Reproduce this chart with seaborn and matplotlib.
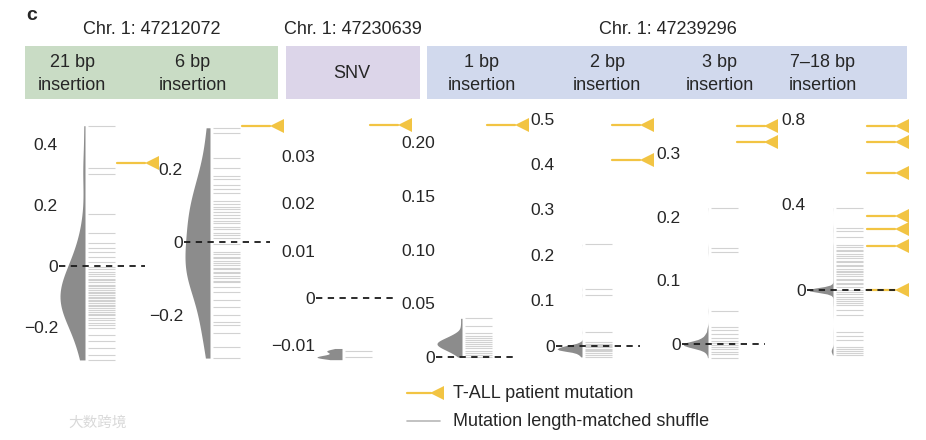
import numpy as np
import matplotlib
matplotlib.use("Agg")
import matplotlib.pyplot as plt
from matplotlib.patches import Rectangle
from matplotlib.transforms import blended_transform_factory
import seaborn as sns

# ---- header text
chr_labels = ["Chr. 1: 47212072", "Chr. 1: 47230639", "Chr. 1: 47239296"]
panel_names = ["21 bp\ninsertion", "6 bp\ninsertion", "SNV", "1 bp\ninsertion",
               "2 bp\ninsertion", "3 bp\ninsertion", "7\u201318 bp\ninsertion"]

# ---- shuffle values (one rug line each) and how many shuffles sit on each value
shuffle_21 = [0.460, 0.321, 0.302, 0.170, 0.108, 0.075, 0.059, 0.046, 0.030, 0.013,
              -0.004, -0.011, -0.019, -0.026, -0.033, -0.041, -0.046, -0.054, -0.061, -0.065,
              -0.073, -0.079, -0.084, -0.089, -0.096, -0.101, -0.104, -0.111, -0.116, -0.121,
              -0.127, -0.131, -0.139, -0.143, -0.151, -0.157, -0.162, -0.171, -0.177, -0.187,
              -0.194, -0.204, -0.226, -0.246, -0.269, -0.292, -0.308]
shuffle_6 = [0.313, 0.300, 0.229, 0.202, 0.182, 0.173, 0.156, 0.145, 0.133, 0.112,
             0.104, 0.097, 0.091, 0.081, 0.074, 0.066, 0.057, 0.051, 0.041, 0.035,
             0.025, 0.019, 0.011, -0.005, -0.027, -0.032, -0.040, -0.044, -0.052, -0.058,
             -0.062, -0.070, -0.074, -0.082, -0.086, -0.094, -0.098, -0.106, -0.110, -0.122,
             -0.136, -0.159, -0.177, -0.200, -0.218, -0.227, -0.250, -0.287, -0.318]
shuffle_snv = [-0.0112, -0.0125]
count_snv = [3, 5]
shuffle_1 = [0.036, 0.029, 0.022, 0.020, 0.018, 0.016, 0.014, 0.012, 0.010, 0.008,
             0.006, 0.004, 0.002, 0.000]
count_1 = [1, 1, 2, 2, 3, 4, 6, 6, 5, 4, 3, 2, 1, 1]
shuffle_2 = [0.2235, 0.1246, 0.112, 0.030, 0.008, 0.005, 0.002, 0.000, -0.003, -0.006,
             -0.009, -0.012, -0.016, -0.020, -0.024]
count_2 = [1, 1, 1, 1, 12, 24, 40, 66, 90, 108, 100, 66, 30, 15, 6]
shuffle_3 = [0.214, 0.151, 0.144, 0.052, 0.027, 0.022, 0.015, 0.009, 0.004, 0.001,
             -0.002, -0.005, -0.008, -0.012, -0.016, -0.0215]
count_3 = [1, 1, 1, 1, 3, 8, 20, 40, 66, 90, 90, 66, 36, 15, 6, 3]
shuffle_7 = [0.385, 0.289, 0.276, 0.249, 0.211, 0.203, 0.188, 0.181, 0.167, 0.158,
             0.149, 0.137, 0.131, 0.118, 0.112, 0.099, 0.091, 0.083, 0.074, 0.066,
             0.052, 0.047, 0.035, 0.026, 0.014, 0.000, -0.011, -0.019, -0.032, -0.041,
             -0.053, -0.061, -0.070, -0.094, -0.117, -0.195, -0.214, -0.234, -0.265, -0.276,
             -0.285, -0.296, -0.304]
count_7 = [1, 1, 1, 1, 1, 1, 1, 1, 1, 1,
           1, 1, 1, 1, 1, 1, 1, 1, 1, 1,
           1, 1, 1, 1, 1, 300, 1, 1, 1, 1,
           1, 1, 1, 1, 1, 1, 1, 1, 1, 1,
           20, 1, 1]

# ---- T-ALL patient mutations
patient_21 = [0.338]
patient_6 = [0.318]
patient_snv = [0.0366]
patient_1 = [0.216]
patient_2 = [0.486, 0.409]
patient_3 = [0.342, 0.317]
patient_7 = [0.767, 0.692, 0.547, 0.346, 0.285, 0.206, 0.0]

# ---- y ticks
ticks_21 = [-0.2, 0, 0.2, 0.4]
ticks_6 = [-0.2, 0, 0.2]
ticks_snv = [-0.01, 0, 0.01, 0.02, 0.03]
ticks_1 = [0, 0.05, 0.10, 0.15, 0.20]
ticks_2 = [0, 0.1, 0.2, 0.3, 0.4, 0.5]
ticks_3 = [0, 0.1, 0.2, 0.3]
ticks_7 = [0, 0.4, 0.8]
ticklabels_21 = ["\u22120.2", "0", "0.2", "0.4"]
ticklabels_6 = ["\u22120.2", "0", "0.2"]
ticklabels_snv = ["\u22120.01", "0", "0.01", "0.02", "0.03"]
ticklabels_1 = ["0", "0.05", "0.10", "0.15", "0.20"]
ticklabels_2 = ["0", "0.1", "0.2", "0.3", "0.4", "0.5"]
ticklabels_3 = ["0", "0.1", "0.2", "0.3"]
ticklabels_7 = ["0", "0.4", "0.8"]

shuffles = [shuffle_21, shuffle_6, shuffle_snv, shuffle_1, shuffle_2, shuffle_3, shuffle_7]
counts = [None, None, count_snv, count_1, count_2, count_3, count_7]
patients = [patient_21, patient_6, patient_snv, patient_1, patient_2, patient_3, patient_7]
ticks = [ticks_21, ticks_6, ticks_snv, ticks_1, ticks_2, ticks_3, ticks_7]
ticklabels = [ticklabels_21, ticklabels_6, ticklabels_snv, ticklabels_1,
              ticklabels_2, ticklabels_3, ticklabels_7]

# ---- layout (pixels)
W, H = 926, 440
panel_x0 = [60, 185, 317, 437, 557, 683, 808]
arrow_tip = [0.85, 0.85, 0.81, 0.78, 0.83, 0.82, 0.87]
ylims = [(-0.3246, 0.4951), (-0.337, 0.348), (-0.01416, 0.03869), (-0.00745, 0.2253),
         (-0.0418, 0.5077), (-0.033, 0.3595), (-0.3509, 0.8187)]
bw_adj = [0.95, 1, 1, 1, 0.6, 0.6, 0.4]
cuts = [0, 0, 1.2, 0, 0, 0, 0]

VIOLIN = "#8c8c8c"
RUG = "#b4b4b4"
YEL = "#f2c443"

sns.set_theme(style="white")
plt.rcParams["font.family"] = ["Liberation Sans", "DejaVu Sans"]

fig = plt.figure(figsize=(W / 100, H / 100), dpi=100)

# overlay in pixel coords for the header and legend
ov = fig.add_axes([0, 0, 1, 1])
ov.set_xlim(0, W)
ov.set_ylim(H, 0)
ov.axis("off")

box_spans = [(25, 278), (286, 420), (427, 907)]
box_colors = ["#c9dcc5", "#dcd5e9", "#d1d9ed"]
for (l, r), c in zip(box_spans, box_colors):
    ov.add_patch(Rectangle((l, 46), r - l, 53, color=c, lw=0))
for x, t in zip([152, 353, 668], chr_labels):
    ov.text(x, 29, t, ha="center", va="center", fontsize=13)
for x, t in zip([72, 193, 352, 482, 607, 720, 823], panel_names):
    ov.text(x, 74, t, ha="center", va="center", fontsize=13, linespacing=1.4)
ov.text(32, 16, "c", ha="center", va="center", fontsize=14, fontweight="bold")

# legend
ov.plot([407, 431], [393, 393], color=YEL, lw=1.6)
ov.plot([437], [393], marker="<", ms=9.5, color=YEL, mew=0)
ov.text(453, 393, "T-ALL patient mutation", va="center", fontsize=13)
ov.plot([407, 440], [421, 421], color="#b8b8b8", lw=1.2)
ov.text(453, 421, "Mutation length-matched shuffle", va="center", fontsize=13)
ov.text(68, 423, "\u5927\u6570\u8de8\u5883", va="center", fontsize=10.5, color="#d9d9d9",
        family=["Noto Sans CJK SC", "DejaVu Sans"])

for i in range(7):
    x0 = panel_x0[i]
    ax = fig.add_axes([x0 / W, 1 - 365 / H, 100 / W, 250 / H])
    vals = np.array(shuffles[i])
    vdata = vals if counts[i] is None else np.repeat(vals, counts[i])
    sns.violinplot(y=vdata, ax=ax, split=True, inner=None, cut=cuts[i], color=VIOLIN,
                   linewidth=0, saturation=1, bw_adjust=bw_adj[i], density_norm="width")
    verts = np.vstack([p.vertices for p in ax.collections[0].get_paths()])
    xl, xr = verts[:, 0].min(), verts[:, 0].max()

    tr = blended_transform_factory(ax.transAxes, ax.transData)
    ax.hlines(vals, 0.28, 0.55, transform=tr, color=RUG, lw=0.8, alpha=0.6, zorder=1)
    tip = arrow_tip[i]
    ax.plot([-0.01, tip], [0, 0], transform=tr, color="#1a1a1a", lw=1.3,
            ls=(0, (3.5, 3)), clip_on=False, zorder=4)
    for v in patients[i]:
        ax.plot([tip - 0.28, tip], [v, v], transform=tr, color=YEL, lw=1.6,
                clip_on=False, zorder=3)
        ax.plot([tip + 0.065], [v], transform=tr, marker="<", ms=9.5, color=YEL,
                mew=0, clip_on=False, zorder=3)

    ax.set_xlim(xl, xl + (xr - xl) * 4)
    ax.set_ylim(*ylims[i])
    ax.set_yticks(ticks[i])
    ax.set_yticklabels(ticklabels[i])
    ax.tick_params(axis="y", length=0, pad=1.5, labelsize=12.5)
    ax.set_xticks([])
    ax.set_xlabel("")
    ax.set_ylabel("")
    ax.patch.set_alpha(0)
    sns.despine(ax=ax, left=True, bottom=True)

fig.savefig("out.png", dpi=100)
